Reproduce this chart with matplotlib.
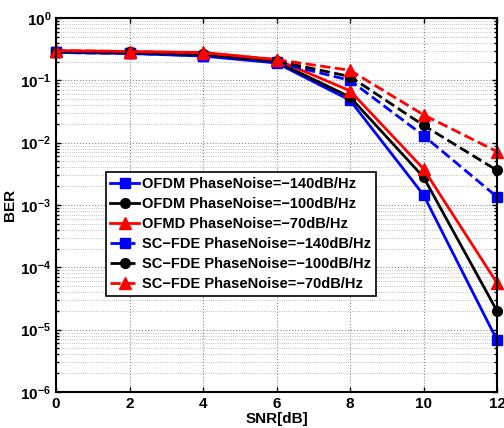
import matplotlib
matplotlib.use("Agg")
import matplotlib.pyplot as plt
import numpy as np

plt.rcParams['font.family'] = ['Liberation Sans', 'DejaVu Sans']
plt.rcParams['font.weight'] = 'bold'

snr = [0, 2, 4, 6, 8, 10, 12]
ofdm_140 = [0.28, 0.27, 0.245, 0.19, 0.048, 1.45e-3, 6.8e-6]
ofdm_100 = [0.29, 0.28, 0.26, 0.20, 0.054, 2.8e-3, 2.0e-5]
ofdm_70 = [0.30, 0.29, 0.28, 0.215, 0.068, 3.8e-3, 5.6e-5]
scfde_140 = [0.28, 0.27, 0.25, 0.195, 0.10, 1.3e-2, 1.35e-3]
scfde_100 = [0.29, 0.28, 0.26, 0.205, 0.115, 1.9e-2, 3.6e-3]
scfde_70 = [0.30, 0.29, 0.275, 0.215, 0.145, 2.8e-2, 7.2e-3]
labels = ['OFDM PhaseNoise=\u2212140dB/Hz', 'OFDM PhaseNoise=\u2212100dB/Hz',
          'OFMD PhaseNoise=\u221270dB/Hz', 'SC\u2212FDE PhaseNoise=\u2212140dB/Hz',
          'SC\u2212FDE PhaseNoise=\u2212100dB/Hz', 'SC\u2212FDE PhaseNoise=\u221270dB/Hz']

fig = plt.figure(figsize=(5.04, 4.28), dpi=100)
ax = fig.add_axes([56/504, 36/428, 441/504, 374/428])

series = [ofdm_140, ofdm_100, ofdm_70, scfde_140, scfde_100, scfde_70]
colors = ['#0000ff', 'black', 'red', '#0000ff', 'black', 'red']
markers = ['s', 'o', '^', 's', 'o', '^']
styles = ['-', '-', '-', '--', '--', '--']
for y, c, m, ls, lab in zip(series, colors, markers, styles, labels):
    ax.semilogy(snr, y, color=c, marker=m, linestyle=ls, linewidth=2,
                markersize=7 if m != '^' else 8, label=lab, clip_on=False)

ax.set_xlim(0, 12)
ax.set_ylim(1e-6, 1)
ax.set_xticks([0, 2, 4, 6, 8, 10, 12])
ax.grid(True, which='major', linestyle=':', color='#888888', linewidth=0.8)
ax.grid(True, which='minor', linestyle=':', color='#aaaaaa', linewidth=0.6)
ax.tick_params(which='both', direction='in', top=True, right=True, labelsize=11, width=1)
for lbl in ax.get_xticklabels() + ax.get_yticklabels():
    lbl.set_fontweight('bold')
for s in ax.spines.values():
    s.set_linewidth(1.5)
ax.set_xlabel('SNR[dB]', fontsize=11, fontweight='bold', labelpad=1)
ax.set_ylabel('BER', fontsize=11, fontweight='bold', labelpad=2)

leg = ax.legend(loc='upper left', bbox_to_anchor=(0.113, 0.587),
                prop={'weight': 'bold', 'size': 10.5}, fancybox=False, framealpha=1,
                edgecolor='black', handlelength=2.0, borderpad=0.3, labelspacing=0.42,
                handletextpad=0.2, borderaxespad=0)
leg.get_frame().set_linewidth(1.2)

fig.savefig('out.png', dpi=100)
